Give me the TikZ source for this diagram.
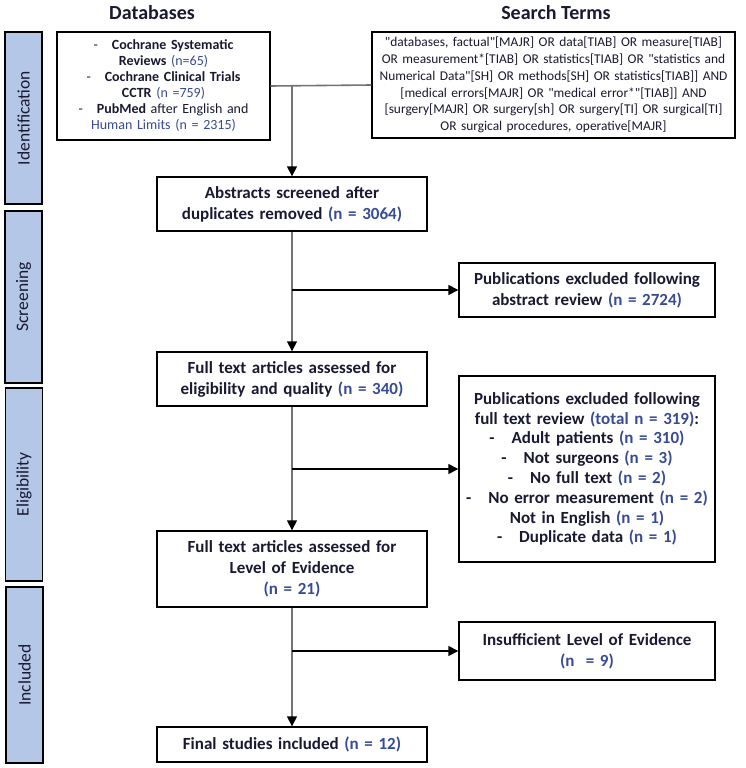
\documentclass[tikz,border=0pt]{standalone}
\usepackage{fontspec}
\setmainfont{Carlito}
\newfontfamily\termfont{Carlito}
\usetikzlibrary{arrows.meta}
\definecolor{sideblue}{RGB}{180,199,231}
\definecolor{nblue}{RGB}{55,75,150}
\definecolor{textnavy}{RGB}{25,25,50}
\definecolor{linegray}{RGB}{115,115,115}
\newcommand{\nval}[1]{\textcolor{nblue}{#1}}

\begin{document}
\begin{tikzpicture}[x=1pt,y=-1pt,
  box/.style={draw=black,line width=1.4pt,fill=white,align=center,inner xsep=0pt,inner ysep=2pt,text=textnavy,font=\fontsize{17}{21}\selectfont\bfseries},
  smallbox/.style={box,font=\fontsize{14}{16}\selectfont},
  sidebox/.style={draw=black,line width=1.4pt,fill=sideblue,rotate=90,minimum height=37pt,inner sep=0pt,text=textnavy,font=\fontsize{17.5}{19}\selectfont},
  head/.style={text=textnavy,font=\fontsize{20}{22}\selectfont\bfseries},
  trunk/.style={draw=linegray,line width=1.6pt},
  branch/.style={draw=black,line width=1.6pt},
  flowtip/.style={-{Triangle[length=10pt,width=10pt,color=black]}}]
\useasboundingbox (0,0) rectangle (745,768);
% phase bars
\node[sidebox,minimum width=172pt] (ident) at (23.5,118) {Identification};
\node[sidebox,minimum width=172pt] (screen) at (23.5,297) {Screening};
\node[sidebox,minimum width=193pt] (elig) at (24,484.5) {Eligibility};
\node[sidebox,minimum width=176pt] (incl) at (24.5,675) {Included};
% column heads
\node[head] (dbhead) at (152,13) {Databases};
\node[head] (sthead) at (556,13) {Search Terms};
% identification
\node[smallbox,text width=213pt,minimum height=108pt] (db) at (163.5,86)
  {-\ \ \ \textbf{Cochrane Systematic}\\ \textbf{Reviews} \nval{(n=65)}\\
   -\ \ \ \textbf{Cochrane Clinical Trials}\\ \textbf{CCTR} \nval{(n =759)}\\
   -\ \ \ \textbf{PubMed} after English and\\ \nval{Human Limits (n = 2315)}};
\node[smallbox,text width=363pt,minimum height=106pt,font=\termfont\fontsize{13.4}{16.8}\selectfont] (st) at (553.5,85)
  {"databases, factual"[MAJR] OR data[TIAB] OR measure[TIAB]\\
   OR measurement*[TIAB] OR statistics[TIAB] OR "statistics and\\
   Numerical Data"[SH] OR methods[SH] OR statistics[TIAB]] AND\\{}
   [medical errors[MAJR] OR "medical error*"[TIAB]] AND\\{}
   [surgery[MAJR] OR surgery[sh] OR surgery[TI] OR surgical[TI]\\
   OR surgical procedures, operative[MAJR]};
% screening
\node[box,text width=270pt,minimum height=54pt] (abs) at (292,204)
  {Abstracts screened after\\ duplicates removed \nval{(n = 3064)}};
\node[box,text width=256pt,minimum height=54pt] (exc1) at (587,290)
  {Publications excluded following\\ abstract review \nval{(n = 2724)}};
% eligibility
\node[box,text width=270pt,minimum height=54pt] (full) at (292,379)
  {Full text articles assessed for\\ eligibility and quality \nval{(n = 340)}};
\node[box,text width=256pt,minimum height=186pt,font=\fontsize{17}{19.8}\selectfont\bfseries] (exc2) at (587,469)
  {Publications excluded following\\ full text review \nval{(total n = 319)}:\\
   -\ \ \ Adult patients \nval{(n = 310)}\\
   -\ \ \ Not surgeons \nval{(n = 3)}\\
   -\ \ \ No full text \nval{(n = 2)}\\
   -\ \ \ No error measurement \nval{(n = 2)}\\
   Not in English \nval{(n = 1)}\\
   -\ \ \ Duplicate data \nval{(n = 1)}};
% included
\node[box,text width=270pt,minimum height=76pt] (loe) at (292,569)
  {Full text articles assessed for\\ Level of Evidence\\ \nval{(n = 21)}};
\node[box,text width=256pt,minimum height=58pt] (exc3) at (587,651)
  {Insufficient Level of Evidence\\ \nval{(n \ = 9)}};
\node[box,text width=270pt,minimum height=35pt] (final) at (292,744.5)
  {Final studies included \nval{(n = 12)}};
% connectors
\draw[trunk] (db.east) -- (st.west);
\coordinate (join) at (db.east -| abs.north);
\draw[trunk,flowtip] (join) -- (abs.north);
\draw[trunk,flowtip] (abs.south) -- (full.north);
\draw[branch,flowtip] (abs.south |- exc1.west) -- (exc1.west);
\draw[trunk,flowtip] (full.south) -- (loe.north);
\draw[branch,flowtip] (full.south |- exc2.west) -- (exc2.west);
\draw[trunk,flowtip] (loe.south) -- (final.north);
\draw[branch,flowtip] (loe.south |- exc3.west) -- (exc3.west);
\end{tikzpicture}
\end{document}
